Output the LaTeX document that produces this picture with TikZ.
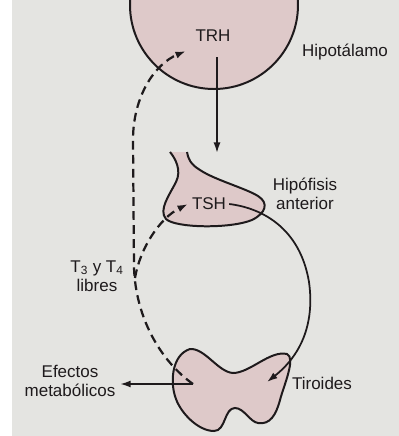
\documentclass[tikz,border=0pt]{standalone}
\usepackage{fontspec}
\setmainfont{Liberation Sans}
\usetikzlibrary{positioning,arrows.meta}
\definecolor{page}{RGB}{228,228,225}
\definecolor{gland}{RGB}{222,201,201}
\definecolor{ink}{RGB}{30,26,28}

\begin{document}
\begin{tikzpicture}[x=0.03cm, y=-0.03cm, >={Latex[length=9pt,width=6pt]}, line width=1.5pt,
  font=\fontsize{14.5}{16.5}\selectfont, text=ink,
  organ/.style={draw=ink, fill=gland, line width=1.7pt},
  feedback/.style={draw=ink, ->, line width=1.9pt, dash pattern=on 7.5pt off 4.5pt},
  signal/.style={draw=ink, ->}]
\useasboundingbox (0,0) rectangle (399,436);
\clip (0,0) rectangle (399,436);
\fill[page] (0,0) rectangle (399,436);
\fill[white] (0,0) rectangle (12,436);

% hipotalamo, cut by the top edge
\draw[organ] (214,5) circle (84);
% hipofisis: open stalk on top
\draw[organ] (170,152) .. controls (175,158) and (182,170) .. (176,182)
  .. controls (170,194) and (158,210) .. (166,219)
  .. controls (175,228) and (230,229) .. (252,220)
  .. controls (266,213) and (269,203) .. (258,196)
  .. controls (245,188) and (215,180) .. (200,170)
  .. controls (190,164) and (188,158) .. (187,152);
% tiroides
\draw[organ] (190,349) .. controls (205,348) and (218,372) .. (233,373)
  .. controls (250,373) and (270,350) .. (287,354)
  .. controls (296,358) and (284,385) .. (280,400)
  .. controls (276,415) and (270,425) .. (258,423)
  .. controls (250,422) and (244,408) .. (235,408)
  .. controls (224,408) and (226,431) .. (214,431)
  .. controls (198,431) and (181,413) .. (176,399)
  .. controls (170,384) and (171,355) .. (190,349) -- cycle;

\node (trh) at (213,36) {TRH};
\node (hipot) at (345,52) {Hipotálamo};
\node[inner sep=2pt] (tsh) at (209,204) {TSH};
\node[align=center] (hipof) at (305,194) {Hipófisis\\anterior};
\node[align=center] (libres) at (97,276) {T\textsubscript{3} y T\textsubscript{4}\\libres};
\node[align=center] (efectos) at (70,381) {Efectos\\metabólicos};
\node (tiroides) at (322,383) {Tiroides};

\coordinate (trhout) at (217,57);
\coordinate (tshtop) at (217,153);
\coordinate (trhin) at (186,51);
\coordinate (tshin) at (188,204);
\coordinate (tiro) at (193,384);
\coordinate (tirin) at (267,382);
\coordinate (split) at (135,278);

\draw[signal] (trhout) -- (tshtop);
\draw[signal] (tsh.east) .. controls (262,208) and (300,228) .. (309,282)
  .. controls (315,325) and (300,356) .. (tirin);
\draw[signal] (tiro) -- (tiro -| efectos.east);
\draw[feedback] (tiro) .. controls (162,362) and (136,320) .. (134,268)
  -- (133,140) .. controls (133,96) and (155,64) .. (trhin);
\draw[feedback] (split) .. controls (140,248) and (160,218) .. (tshin);
\end{tikzpicture}
\end{document}
